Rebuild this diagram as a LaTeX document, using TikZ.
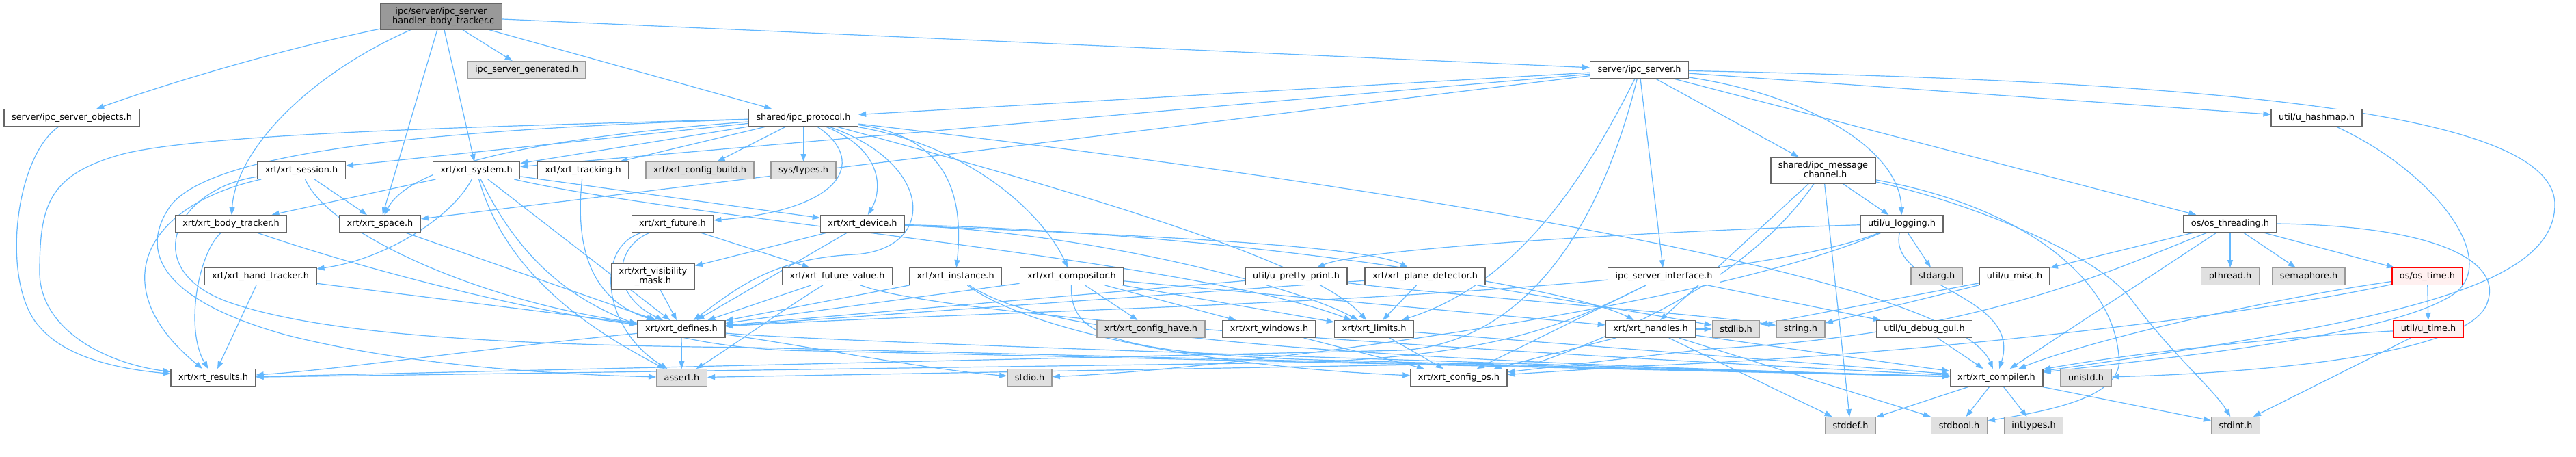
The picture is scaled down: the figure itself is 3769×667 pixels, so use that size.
\documentclass[tikz,border=0pt]{standalone}
\usepackage{fontspec}
\setmainfont{DejaVu Sans}
\usetikzlibrary{arrows.meta,backgrounds}
\definecolor{edgeblue}{HTML}{63B8FF}
\definecolor{boxgray}{HTML}{666666}
\definecolor{sysgray}{HTML}{999999}
\definecolor{sysfill}{HTML}{E0E0E0}
\definecolor{curfill}{HTML}{999999}
\definecolor{truncfill}{HTML}{FFF0F0}

\begin{document}
\begin{tikzpicture}[x=1pt,y=-1pt,font=\fontsize{12.85}{14.5}\selectfont,
  hdr/.style={draw=boxgray,fill=white,line width=1.4pt,minimum height=24.5pt,inner xsep=11pt,inner ysep=2pt},
  sys/.style={hdr,draw=sysgray,fill=sysfill},
  cur/.style={hdr,fill=curfill,align=center,minimum height=38pt},
  trunc/.style={hdr,draw=red,fill=truncfill},
  two/.style={align=center,minimum height=38pt},
  dep/.style={-{Triangle[length=11pt,width=8pt]},edgeblue,line width=1.2pt}]
\useasboundingbox (0,0) rectangle (3769,667);

\node[cur] (main) at (645.5,24) {ipc/server/ipc\_server\\\_handler\_body\_tracker.c};
\node[sys] (gen) at (770.5,102) {ipc\_server\_generated.h};
\node[hdr] (srv) at (2398.5,102) {server/ipc\_server.h};
\node[hdr] (objects) at (105,172) {server/ipc\_server\_objects.h};
\node[hdr] (proto) at (1175.5,172) {shared/ipc\_protocol.h};
\node[hdr] (hashmap) at (3389.5,172) {util/u\_hashmap.h};
\node[hdr] (session) at (441,249) {xrt/xrt\_session.h};
\node[hdr] (system) at (697,249) {xrt/xrt\_system.h};
\node[hdr] (tracking) at (853,249) {xrt/xrt\_tracking.h};
\node[sys] (cbuild) at (1024,249) {xrt/xrt\_config\_build.h};
\node[sys] (systypes) at (1175.5,249) {sys/types.h};
\node[hdr,two] (msgchan) at (2667.5,249) {shared/ipc\_message\\\_channel.h};
\node[hdr] (body) at (338,327) {xrt/xrt\_body\_tracker.h};
\node[hdr] (space) at (556,327) {xrt/xrt\_space.h};
\node[hdr] (future) at (984,327) {xrt/xrt\_future.h};
\node[hdr] (device) at (1262,327) {xrt/xrt\_device.h};
\node[hdr] (logging) at (2782.5,327) {util/u\_logging.h};
\node[hdr] (threading) at (3263,327) {os/os\_threading.h};
\node[hdr] (hand) at (381,404) {xrt/xrt\_hand\_tracker.h};
\node[hdr,two] (vismask) at (955.5,404) {xrt/xrt\_visibility\\\_mask.h};
\node[hdr] (fvalue) at (1225,404) {xrt/xrt\_future\_value.h};
\node[hdr] (instance) at (1398,404) {xrt/xrt\_instance.h};
\node[hdr] (compositor) at (1568,404) {xrt/xrt\_compositor.h};
\node[hdr] (pretty) at (1896.5,404) {util/u\_pretty\_print.h};
\node[hdr] (plane) at (2085,404) {xrt/xrt\_plane\_detector.h};
\node[hdr] (iface) at (2434.5,404) {ipc\_server\_interface.h};
\node[sys] (stdarg) at (2833.5,404) {stdarg.h};
\node[hdr] (misc) at (2947.5,404) {util/u\_misc.h};
\node[sys] (pthread) at (3263,404) {pthread.h};
\node[sys] (semaphore) at (3378,404) {semaphore.h};
\node[trunc] (ostime) at (3551.5,404) {os/os\_time.h};
\node[hdr] (defines) at (997,481) {xrt/xrt\_defines.h};
\node[sys] (chave) at (1684,481) {xrt/xrt\_config\_have.h};
\node[hdr] (windows) at (1857,481) {xrt/xrt\_windows.h};
\node[hdr] (limits) at (2010.5,481) {xrt/xrt\_limits.h};
\node[hdr] (handles) at (2415,481) {xrt/xrt\_handles.h};
\node[sys] (stdlib) at (2540,481) {stdlib.h};
\node[sys] (string) at (2634.5,481) {string.h};
\node[hdr] (debuggui) at (2815.5,481) {util/u\_debug\_gui.h};
\node[trunc] (utime) at (3553,481) {util/u\_time.h};
\node[hdr] (results) at (312,552) {xrt/xrt\_results.h};
\node[sys] (assert) at (997.5,552) {assert.h};
\node[sys] (stdio) at (1506.5,552) {stdio.h};
\node[hdr] (configos) at (2134.5,552) {xrt/xrt\_config\_os.h};
\node[hdr] (compiler) at (2921,552) {xrt/xrt\_compiler.h};
\node[sys] (unistd) at (3052,552) {unistd.h};
\node[sys] (stddef) at (2707.5,622) {stddef.h};
\node[sys] (stdbool) at (2866.5,622) {stdbool.h};
\node[sys] (inttypes) at (2975.5,622) {inttypes.h};
\node[sys] (stdint) at (3271,622) {stdint.h};

\begin{scope}[on background layer]
\fill[white] (0,0) rectangle (3769,667);
\draw[dep] (main) .. controls (420,70) and (250,120) .. (objects);
\draw[dep] (main) .. controls (450,110) and (345,220) .. (body);
\draw[dep] (main) -- (space);
\draw[dep] (main) -- (system);
\draw[dep] (main) -- (gen);
\draw[dep] (main) -- (proto);
\draw[dep] (main) -- (srv);
\draw[dep] (objects) .. controls (20,230) and (0,420) .. (60,480) .. controls (100,525) and (180,540) .. (results);

\draw[dep] (srv) -- (proto);
\draw[dep] (srv) -- (system);
\draw[dep] (srv) -- (space);
\draw[dep] (srv) .. controls (2300,300) and (2200,420) .. (limits);
\draw[dep] (srv) .. controls (2350,300) and (2250,500) .. (2050,512) -- (results);
\draw[dep] (srv) -- (iface);
\draw[dep] (srv) -- (msgchan);
\draw[dep] (srv) .. controls (3300,120) and (3740,170) .. (3738,300) .. controls (3736,420) and (3500,470) .. (compiler);
\draw[dep] (srv) -- (hashmap);
\draw[dep] (srv) -- (threading);
\draw[dep] (srv) .. controls (2650,140) and (2780,220) .. (logging);

\draw[dep] (proto) -- (session);
\draw[dep] (proto) .. controls (800,200) and (600,240) .. (space);
\draw[dep] (proto) -- (system);
\draw[dep] (proto) .. controls (700,185) and (300,195) .. (180,225) .. controls (70,255) and (58,300) .. (58,400) .. controls (60,480) and (150,530) .. (results);
\draw[dep] (proto) .. controls (600,190) and (310,225) .. (250,300) .. controls (200,370) and (240,440) .. (420,490) .. controls (620,540) and (850,548) .. (assert);
\draw[dep] (proto) -- (tracking);
\draw[dep] (proto) -- (cbuild);
\draw[dep] (proto) -- (systypes);
\draw[dep] (proto) .. controls (1265,230) and (1245,305) .. (future);
\draw[dep] (proto) .. controls (1295,220) and (1290,280) .. (device);
\draw[dep] (proto) .. controls (1370,240) and (1370,365) .. (1250,372) .. controls (1130,378) and (1080,420) .. (defines);
\draw[dep] (proto) .. controls (1390,200) and (1410,290) .. (instance);
\draw[dep] (proto) .. controls (1430,215) and (1530,320) .. (compositor);
\draw[dep] (proto) .. controls (1650,300) and (1930,390) .. (limits);
\draw[dep] (proto) .. controls (1950,260) and (2860,400) .. (compiler);

\draw[dep] (session) .. controls (210,300) and (150,420) .. (results);
\draw[dep] (session) -- (space);
\draw[dep] (session) .. controls (480,340) and (700,440) .. (defines);
\draw[dep] (session) .. controls (260,275) and (200,390) .. (330,440) .. controls (480,495) and (800,505) .. (1100,508) -- (compiler);

\draw[dep] (system) -- (body);
\draw[dep] (system) .. controls (660,320) and (560,380) .. (hand);
\draw[dep] (system) -- (defines);
\draw[dep] (system) .. controls (740,400) and (860,480) .. (assert);
\draw[dep] (system) -- (device);
\draw[dep] (system) .. controls (1000,320) and (1750,380) .. (limits);
\draw[dep] (system) .. controls (780,420) and (900,500) .. (1150,512) -- (compiler);

\draw[dep] (body) .. controls (290,370) and (270,480) .. (results);
\draw[dep] (body) .. controls (550,400) and (800,460) .. (defines);
\draw[dep] (hand) -- (results);
\draw[dep] (hand) -- (defines);
\draw[dep] (space) -- (defines);
\draw[dep] (tracking) .. controls (840,370) and (870,440) .. (defines);
\draw[dep] (future) .. controls (900,360) and (890,430) .. (defines);
\draw[dep] (future) .. controls (870,360) and (880,480) .. (assert);
\draw[dep] (future) -- (fvalue);
\draw[dep] (device) -- (vismask);
\draw[dep] (device) -- (defines);
\draw[dep] (device) .. controls (1700,345) and (2000,360) .. (plane);
\draw[dep] (device) .. controls (1600,340) and (1900,420) .. (limits);
\draw[dep] (device) .. controls (1800,340) and (2300,420) .. (handles);
\draw[dep] (vismask) -- (defines);
\draw[dep] (fvalue) -- (defines);
\draw[dep] (fvalue) .. controls (1150,450) and (1050,520) .. (assert);
\draw[dep] (fvalue) .. controls (1400,470) and (2300,520) .. (compiler);
\draw[dep] (instance) -- (defines);
\draw[dep] (instance) .. controls (1500,470) and (1700,520) .. (compiler);
\draw[dep] (instance) .. controls (1500,480) and (1750,535) .. (configos);
\draw[dep] (compositor) -- (defines);
\draw[dep] (compositor) -- (chave);
\draw[dep] (compositor) -- (windows);
\draw[dep] (compositor) -- (limits);
\draw[dep] (compositor) -- (handles);
\draw[dep] (compositor) .. controls (1565,490) and (1620,520) .. (2000,528) -- (compiler);

\draw[dep] (defines) .. controls (700,510) and (500,540) .. (results);
\draw[dep] (defines) -- (assert);
\draw[dep] (defines) .. controls (1200,500) and (2300,535) .. (compiler);
\draw[dep] (defines) .. controls (1150,500) and (1350,540) .. (stdio);
\draw[dep] (plane) -- (defines);
\draw[dep] (plane) -- (limits);
\draw[dep] (plane) -- (stdlib);
\draw[dep] (pretty) -- (defines);
\draw[dep] (pretty) .. controls (2100,430) and (2500,460) .. (string);
\draw[dep] (windows) -- (configos);
\draw[dep] (limits) -- (configos);
\draw[dep] (limits) -- (compiler);
\draw[dep] (iface) -- (configos);
\draw[dep] (iface) .. controls (2300,470) and (2200,520) .. (1900,530) -- (results);
\draw[dep] (iface) -- (debuggui);
\draw[dep] (handles) -- (configos);
\draw[dep] (handles) -- (stddef);
\draw[dep] (handles) -- (stdbool);
\draw[dep] (handles) -- (stdlib);
\draw[dep] (handles) -- (compiler);

\draw[dep] (msgchan) -- (handles);
\draw[dep] (msgchan) .. controls (2570,390) and (2420,470) .. (2250,530) -- (assert);
\draw[dep] (msgchan) -- (stddef);
\draw[dep] (msgchan) -- (logging);
\draw[dep] (msgchan) .. controls (2950,300) and (3090,400) .. (3100,520) .. controls (3110,580) and (3000,600) .. (stdbool);
\draw[dep] (msgchan) .. controls (2900,300) and (3080,380) .. (3120,440) .. controls (3180,520) and (3240,570) .. (stdint);
\draw[dep] (logging) .. controls (2500,335) and (2000,360) .. (pretty);
\draw[dep] (logging) .. controls (2500,440) and (1500,450) .. (defines);
\draw[dep] (logging) .. controls (2760,420) and (2960,430) .. (compiler);
\draw[dep] (logging) -- (stdarg);
\draw[dep] (logging) .. controls (2500,450) and (1800,540) .. (stdio);
\draw[dep] (misc) -- (stdlib);
\draw[dep] (misc) -- (string);
\draw[dep] (debuggui) -- (compiler);

\draw[dep] (threading) -- (misc);
\draw[dep] (threading) .. controls (3100,390) and (2900,490) .. (2500,510) -- (configos);
\draw[dep] (threading) -- (compiler);
\draw[dep] (threading) -- (pthread);
\draw[dep] (threading) -- (semaphore);
\draw[dep] (threading) -- (ostime);
\draw[dep] (threading.east) .. controls (3560,330) and (3660,380) .. (3640,440) .. controls (3620,520) and (3300,545) .. (unistd);
\draw[dep] (ostime) .. controls (3300,440) and (3050,500) .. (compiler);
\draw[dep] (ostime) .. controls (3300,460) and (2800,520) .. (2400,535) -- (configos);
\draw[dep] (ostime) -- (utime);
\draw[dep] (utime) .. controls (3300,495) and (3100,520) .. (compiler);
\draw[dep] (utime) -- (stdint);
\draw[dep] (hashmap) .. controls (3560,250) and (3660,380) .. (3590,430) .. controls (3500,490) and (3200,520) .. (compiler);

\draw[dep] (compiler) -- (stddef);
\draw[dep] (compiler) -- (stdbool);
\draw[dep] (compiler) -- (inttypes);
\draw[dep] (compiler) -- (stdint);
\end{scope}
\end{tikzpicture}
\end{document}
